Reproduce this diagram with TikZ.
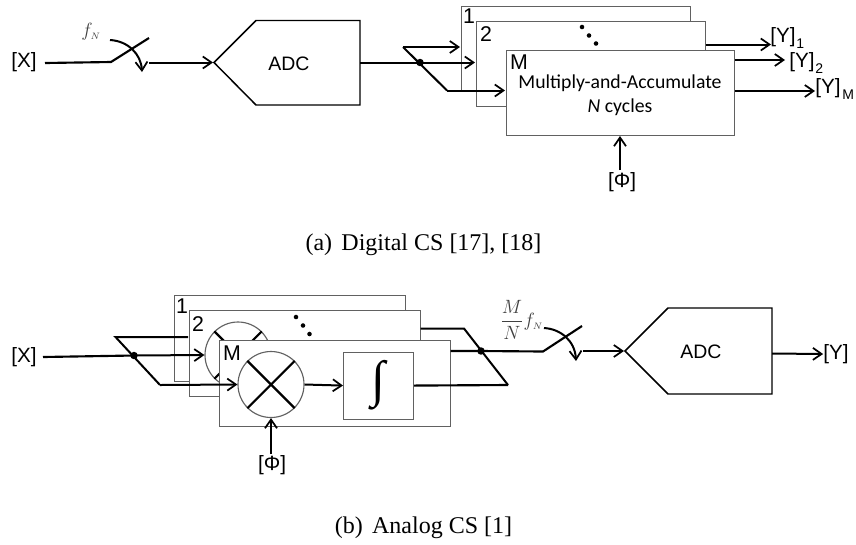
\documentclass[tikz,border=0pt]{standalone}
\usepackage{fontspec}
\setmainfont{Liberation Serif}
\newfontfamily\arialf{Liberation Sans}
\newfontfamily\calf{Carlito}
\usetikzlibrary{arrows.meta}
\definecolor{boxgray}{gray}{0.38}
\definecolor{fgray}{gray}{0.25}
\tikzset{
  x=0.75pt,y=-0.75pt,
  wire/.style={line width=1.6pt,black},
  barb/.style={-{Straight Barb[length=6.5pt,width=9pt,line width=1.3pt]}},
  sig/.style={line width=1.5pt,black,barb},
  slab/.style={inner sep=0pt,font=\arialf\fontsize{15.5}{16}\selectfont},
  adclab/.style={inner sep=0pt,font=\arialf\fontsize{14.6}{15}\selectfont},
  stack/.style={draw=boxgray,line width=0.85pt,fill=white},
  adcbox/.style={draw=black,line width=1.1pt,fill=white},
  junction/.style={circle,fill=black,inner sep=0pt,minimum size=5.6pt},
  dotm/.style={circle,fill=black,inner sep=0pt,minimum size=3.4pt},
  captext/.style={inner sep=0pt,font=\fontsize{18}{18}\selectfont},
  freq/.style={inner sep=0pt,text=fgray,font=\fontsize{15}{15}\selectfont},
  subs/.style={inner sep=0pt,font=\arialf\fontsize{10.5}{11}\selectfont},
  cross/.style={line width=1.6pt,black},
  mac/.style={inner sep=0pt,font=\calf\fontsize{14.8}{15}\selectfont},
}
\begin{document}
\begin{tikzpicture}
\useasboundingbox (0,0) rectangle (856,544);
% ---------- (a) Digital
\node[slab] (xa) at (24,62) {[X]};
\coordinate (sa0) at (45,63);
\coordinate (sa1) at (111,62);
\coordinate (sa2) at (149,38);
\draw[wire] (sa0) -- (sa1) -- (sa2);
\node[freq] (fa) at (91,32) {$f_{\scriptscriptstyle N}$};
\coordinate (ca0) at (110,40);
\coordinate (ca1) at (142,72);
\draw[line width=1.5pt,barb] (ca0) .. controls (128,41) and (141,54) .. (ca1);
\coordinate (ain) at (149,62.5);
\coordinate (adca) at (213,62.5);
\draw[adcbox] (214,62.5) -- (256,20.5) -- (360,20.5) -- (360,105) -- (256,105) -- cycle;
\node[adclab] (adct) at (289,64) {ADC};
\draw[sig] (ain) -- (adca);
\node[stack,anchor=north west,minimum width=228.5pt*0.75,minimum height=85pt*0.75,inner sep=0pt] (ba1) at (461,5.5) {};
\node[stack,anchor=north west,minimum width=228.5pt*0.75,minimum height=85pt*0.75,inner sep=0pt] (ba2) at (476,20.5) {};
\node[stack,anchor=north west,minimum width=228.5pt*0.75,minimum height=85pt*0.75,inner sep=0pt] (bam) at (505.5,50) {};
\node[slab,font=\arialf\fontsize{16}{16}\selectfont] (la1) at (469,16) {1};
\node[slab,font=\arialf\fontsize{16}{16}\selectfont] (la2) at (486,34) {2};
\node[slab,font=\arialf\fontsize{16}{16}\selectfont] (lam) at (519,62) {M};
\node[dotm] (da1) at (582,27) {};
\node[dotm] (da2) at (589,35.5) {};
\node[dotm] (da3) at (596,43.5) {};
\node[mac] (ma) at (620,83) {Multiply-and-Accumulate};
\node[mac] (mb) at (620,107) {\textit{N} cycles};
\coordinate (ja) at (420,62.5);
\coordinate (pa0) at (403,47);
\coordinate (pa1) at (447,90.5);
\draw[sig] (360,62.5) -- (475,62.5);
\draw[line width=1.5pt] (pa1) -- (pa0);
\draw[sig] (pa0) -- (460,47);
\draw[sig] (pa1) -- (505,90.5);
\node[junction] (jan) at (ja) {};
\node[slab] (pha) at (622,182) {[Φ]};
\draw[sig] (620,170) -- (620,136);
\node[slab,anchor=west] (y1) at (770,37) {[Y]};
\node[subs,anchor=west] (y1s) at (796,44) {1};
\node[slab,anchor=west] (y2) at (789,62) {[Y]};
\node[subs,anchor=west] (y2s) at (815,69) {2};
\node[slab,anchor=west] (ym) at (815,88) {[Y]};
\node[subs,anchor=west] (yms) at (842,95) {M};
\coordinate (y1e) at (771,44.5);
\coordinate (y2e) at (785,60);
\coordinate (yme) at (815,91);
\draw[sig] (ba2.east |- y1e) -- (y1e);
\draw[sig] (bam.east |- y2e) -- (y2e);
\draw[sig] (bam.east |- yme) -- (yme);
\node[captext] (capa) at (423.5,245) {(a)\hspace{7pt}Digital CS [17], [18]};
% ---------- (b) Analog
\node[slab] (xb) at (24,357) {[X]};
\node[stack,anchor=north west,minimum width=231pt*0.75,minimum height=86pt*0.75,inner sep=0pt] (bb1) at (173.5,295) {};
\node[slab,font=\arialf\fontsize{16}{16}\selectfont] (lb1) at (182,306) {1};
\node[stack,anchor=north west,minimum width=231pt*0.75,minimum height=86pt*0.75,inner sep=0pt] (bb2) at (188.5,310) {};
\node[slab,font=\arialf\fontsize{16}{16}\selectfont] (lb2) at (198,324) {2};
\node[dotm] (db1) at (296,317) {};
\node[dotm] (db2) at (303,325.5) {};
\node[dotm] (db3) at (309.5,334) {};
\node[circle,draw=boxgray,line width=0.85pt,fill=white,minimum size=66pt*0.75,inner sep=0pt] (cb2) at (238,355) {};
\draw[cross] (cb2.north west) -- (cb2.south east);
\draw[cross] (cb2.north east) -- (cb2.south west);
\node[stack,anchor=north west,minimum width=231pt*0.75,minimum height=86pt*0.75,inner sep=0pt] (bbm) at (218.5,340) {};
\node[slab,font=\arialf\fontsize{16}{16}\selectfont] (lbm) at (232,353) {M};
\node[circle,draw=boxgray,line width=0.85pt,fill=white,minimum size=66pt*0.75,inner sep=0pt] (cbm) at (271,384.5) {};
\draw[cross] (cbm.north west) -- (cbm.south east);
\draw[cross] (cbm.north east) -- (cbm.south west);
\node[stack,minimum width=70pt*0.75,minimum height=67pt*0.75,inner sep=0pt,anchor=north west] (ib) at (343,351.5) {};
\node[inner sep=0pt,font=\fontsize{38}{38}\selectfont] (il) at (378,385) {∫};
\coordinate (jb) at (134,355.5);
\coordinate (qb0) at (115.5,337);
\coordinate (qb1) at (160,385);
\draw[wire] (43,357) -- (jb);
\draw[sig] (jb) -- (cb2.west);
\draw[line width=1.5pt] (qb1) -- (qb0) -- (188,337);
\draw[sig] (qb1) -- (cbm.west);
\draw[sig] (cbm.east) -- (ib.west);
\node[junction] (jbn) at (jb) {};
\node[slab] (phb) at (272,465) {[Φ]};
\draw[sig] (271,454) -- (cbm.south);
\coordinate (jc) at (481,351);
\coordinate (rb0) at (464,328.5);
\coordinate (rb1) at (508,385);
\coordinate (sb1) at (543,351.5);
\coordinate (sb2) at (582,326);
\draw[line width=1.5pt] (bb2.east |- rb0) -- (rb0) -- (rb1);
\draw[wire] (ib.east) -- (rb1);
\draw[wire] (bbm.east |- jc) -- (jc) -- (sb1) -- (sb2);
\node[junction] (jcn) at (jc) {};
\node[freq,anchor=west] (fb) at (500,320) {$\displaystyle\frac{M}{N}f_{\scriptscriptstyle N}$};
\draw[line width=1.5pt,barb] (544,328) .. controls (561,329) and (575,341) .. (576,361);
\draw[adcbox] (625,351) -- (668,308) -- (772,308) -- (772,394) -- (668,394) -- cycle;
\node[adclab] (adcbt) at (701,352) {ADC};
\draw[sig] (583,351) -- (624,351);
\node[slab] (yb) at (836,354) {[Y]};
\draw[sig] (772,353.5) -- (yb.west);
\node[captext] (capb) at (423.5,528) {(b)\hspace{7pt}Analog CS [1]};
\end{tikzpicture}
\end{document}
